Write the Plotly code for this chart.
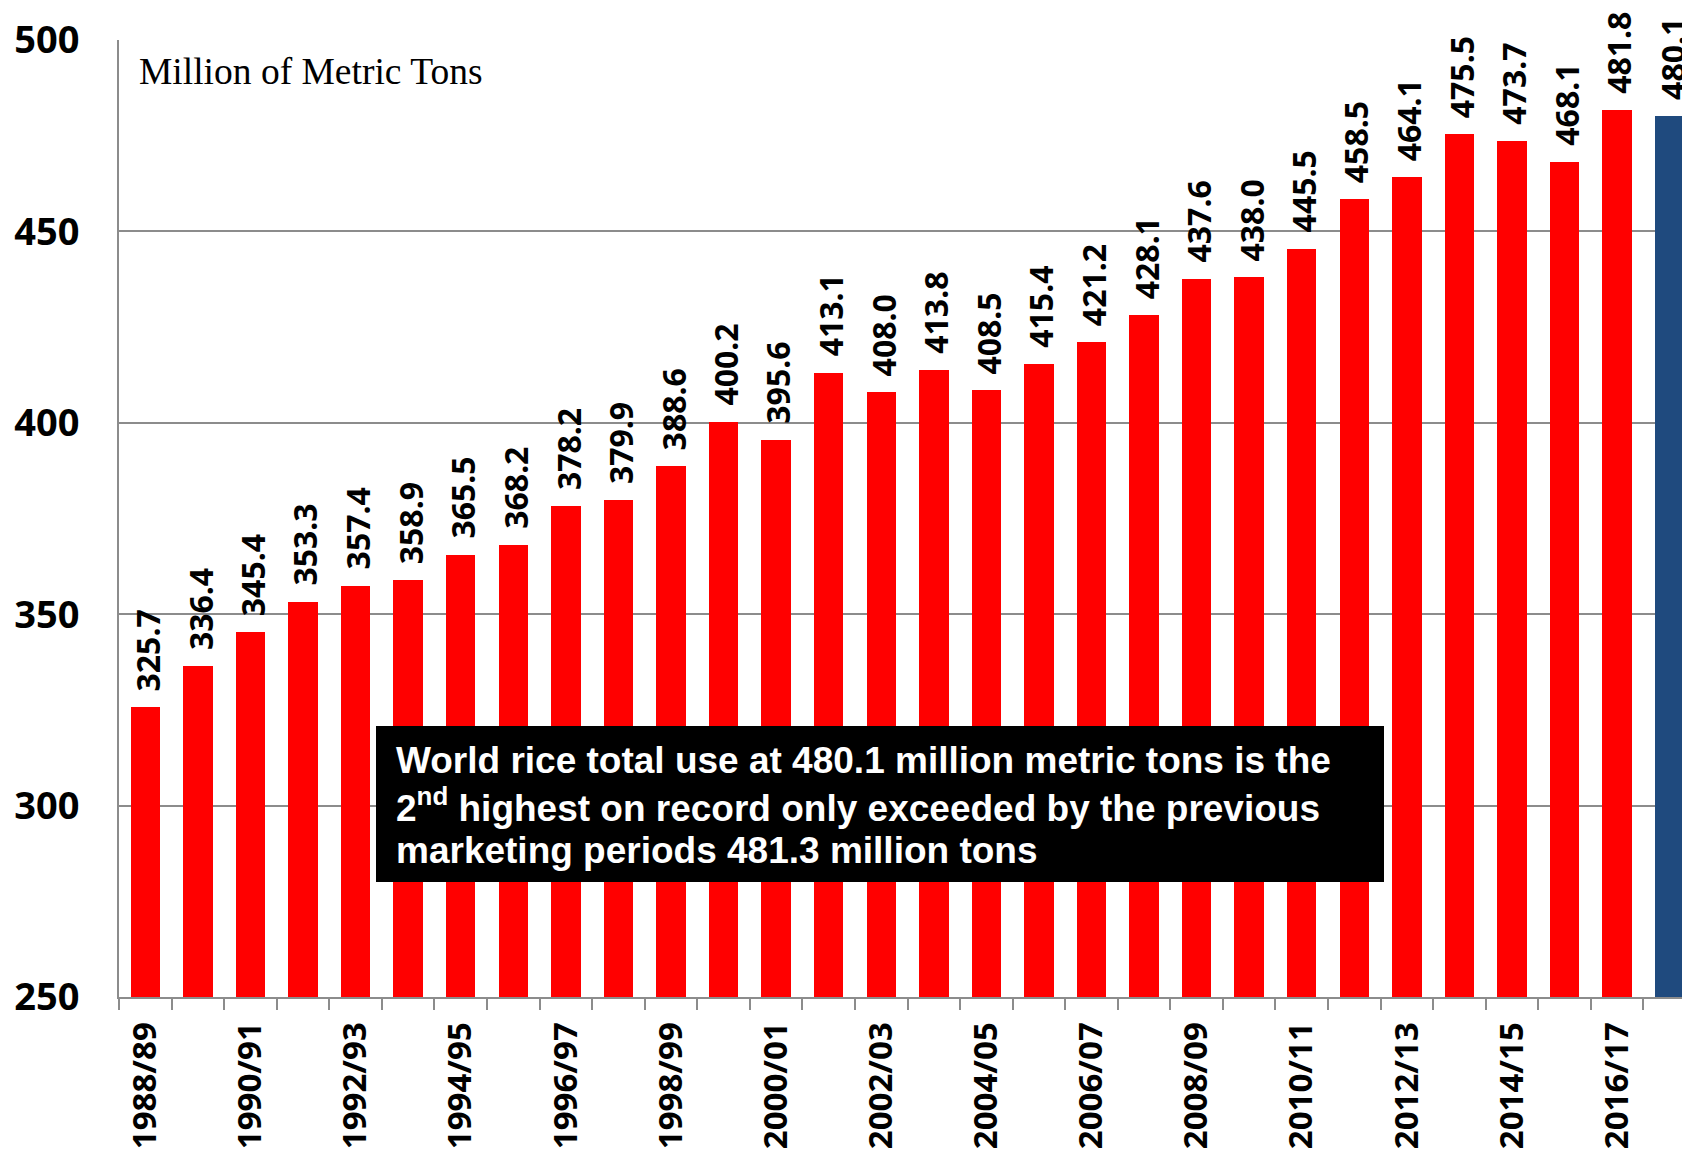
import plotly.graph_objects as go

seasons = ["1988/89", "1989/90", "1990/91", "1991/92", "1992/93", "1993/94",
           "1994/95", "1995/96", "1996/97", "1997/98", "1998/99", "1999/00",
           "2000/01", "2001/02", "2002/03", "2003/04", "2004/05", "2005/06",
           "2006/07", "2007/08", "2008/09", "2009/10", "2010/11", "2011/12",
           "2012/13", "2013/14", "2014/15", "2015/16", "2016/17", "2017/18"]
total_use = [325.7, 336.4, 345.4, 353.3, 357.4, 358.9, 365.5, 368.2, 378.2, 379.9,
             388.6, 400.2, 395.6, 413.1, 408.0, 413.8, 408.5, 415.4, 421.2, 428.1,
             437.6, 438.0, 445.5, 458.5, 464.1, 475.5, 473.7, 468.1, 481.8, 480.1]
y_ticks = [250, 300, 350, 400, 450, 500]
note_lines = ["World rice total use at 480.1 million metric tons is the",
              "2<sup>nd</sup> highest on record only exceeded by the previous",
              "marketing periods 481.3 million tons"]
unit_label = "Million of Metric Tons"

RED = "#FF0000"
BLUE = "#1F4A7E"
GRID = "#8C8C8C"
LBL_FONT = "Noto Sans"

idx = list(range(len(seasons)))
colors = [RED] * (len(seasons) - 1) + [BLUE]

# page body has an 8px offset; layout is expressed in screen pixels
OFF = 8
W, H = 1690, 1152
ML, MR, MT, MB = 111, 2, 32, 163
pw = W - ML - MR
ph = H - MT - MB

def sx(xs):
    return (xs - OFF - ML) / pw

def sy(ys):
    return 1 - (ys - OFF - MT) / ph

fig = go.Figure()
fig.add_trace(go.Bar(
    x=idx, y=total_use, width=0.56,
    marker=dict(color=colors, line=dict(width=0)),
    hoverinfo="skip", showlegend=False,
))

annotations = []
for i, v in zip(idx, total_use):
    annotations.append(dict(
        x=i, y=v, xref="x", yref="y", text=f"{v:.1f}", showarrow=False,
        textangle=-90, xanchor="center", yanchor="bottom", yshift=14, xshift=2,
        font=dict(family=LBL_FONT, size=32, color="black", weight="bold"),
    ))

annotations.append(dict(
    x=sx(137), y=sy(72), xref="paper", yref="paper", text=unit_label,
    showarrow=False, xanchor="left", yanchor="middle",
    font=dict(family="Liberation Serif", size=37.5, color="black"),
))

line_centers = [760, 805, 850]
for t, yc in zip(note_lines, line_centers):
    annotations.append(dict(
        x=sx(394), y=sy(yc), xref="paper", yref="paper", text=t,
        showarrow=False, xanchor="left", yanchor="middle", align="left",
        font=dict(family="Liberation Sans", size=37, color="white", weight="bold"),
    ))

fig.update_layout(
    width=W, height=H,
    margin=dict(l=ML, r=MR, t=MT, b=MB, autoexpand=False),
    paper_bgcolor="white", plot_bgcolor="white",
    bargap=0,
    shapes=[dict(type="rect", xref="paper", yref="paper",
                 x0=sx(376), x1=sx(1384), y0=sy(882), y1=sy(726),
                 fillcolor="black", line=dict(width=0), layer="above")],
    annotations=annotations,
    xaxis=dict(
        range=[-0.5, len(seasons) - 0.5],
        automargin=False,
        tickmode="array",
        tickvals=idx[::2], ticktext=seasons[::2],
        tickangle=-90, ticks="",
        ticklabelstandoff=10,
        tickfont=dict(family=LBL_FONT, size=33, color="black", weight="bold"),
        showline=True, linecolor=GRID, linewidth=2,
        showgrid=False, zeroline=False,
        minor=dict(tickmode="array", tickvals=[i - 0.5 for i in range(len(seasons) + 1)],
                   ticks="outside", ticklen=11, tickcolor=GRID, tickwidth=2, showgrid=False),
    ),
    yaxis=dict(
        range=[250, 500],
        automargin=False,
        tickmode="array", tickvals=y_ticks,
        ticks="", ticklabelstandoff=30,
        tickfont=dict(family=LBL_FONT, size=38, color="black", weight="bold"),
        showline=True, linecolor=GRID, linewidth=2,
        showgrid=True, gridcolor=GRID, gridwidth=1.5,
        zeroline=False,
    ),
)

fig.write_html("out.html")
